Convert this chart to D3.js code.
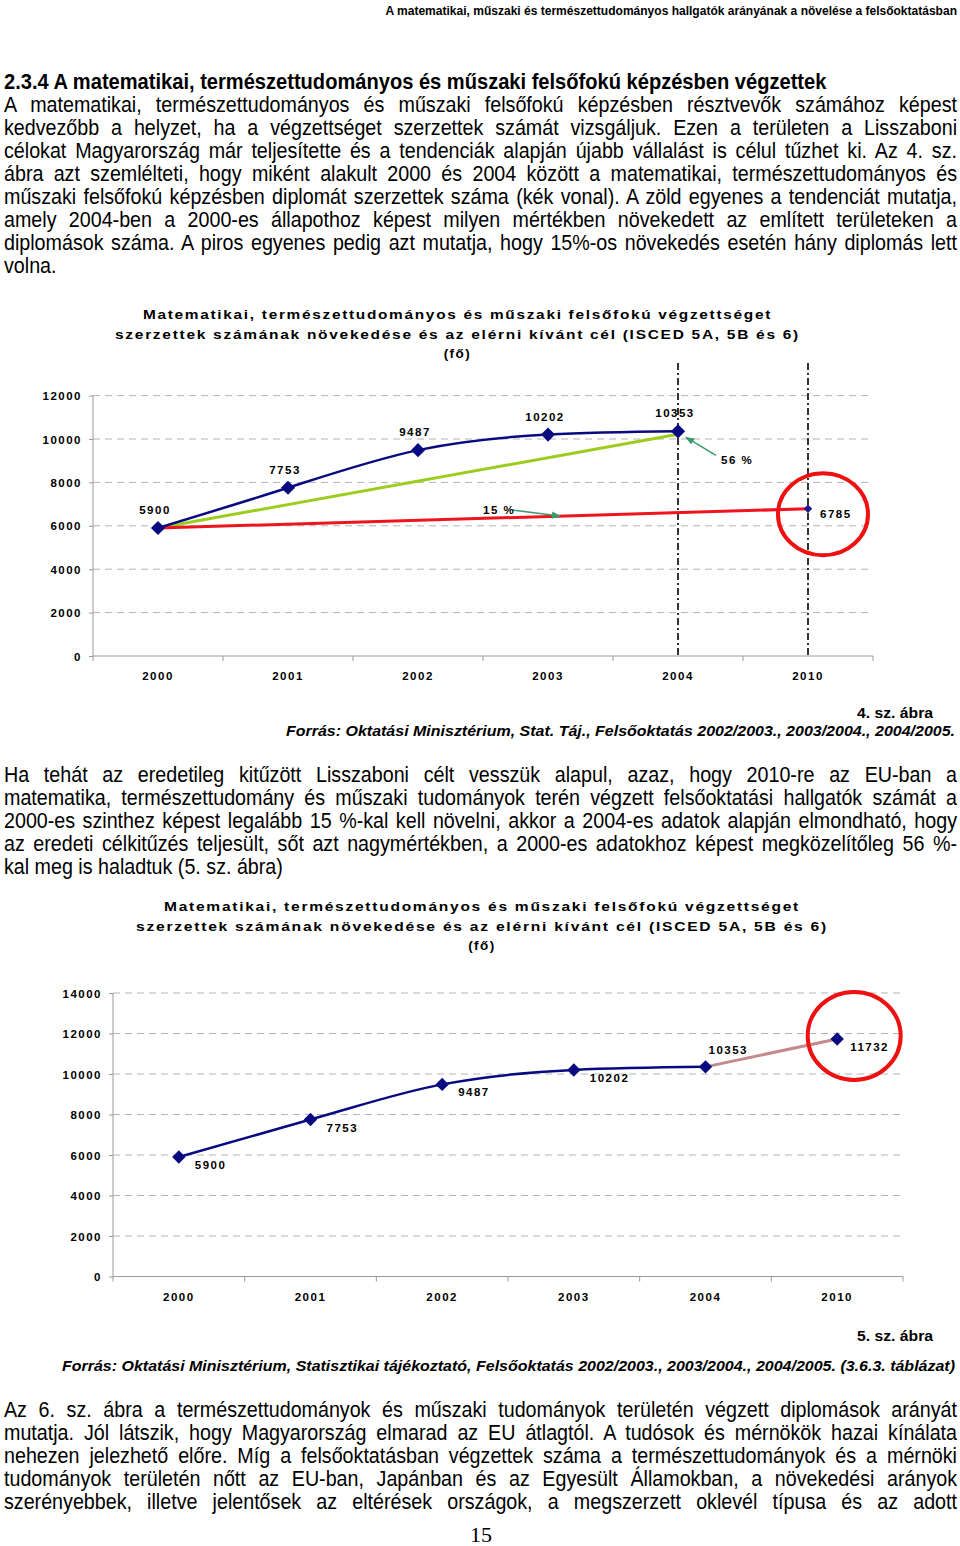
<!DOCTYPE html>
<html><head><meta charset="utf-8">
<script src="https://cdn.jsdelivr.net/npm/d3@7"></script>
<style>
html,body{margin:0;padding:0;background:#fff;}
svg{display:block;}
</style></head><body>
<svg id="page" width="960" height="1546"></svg>
<script>
// ---------------- data ----------------
const years = ["2000", "2001", "2002", "2003", "2004", "2010"];
const graduates = [5900, 7753, 9487, 10202, 10353];      // 2000–2004, blue line
const target15 = 6785;                                    // 2010 target at +15 %
const trend2010 = 11732;                                  // 2010 value in chart 5
const yTicks1 = [0, 2000, 4000, 6000, 8000, 10000, 12000];
const yTicks2 = [0, 2000, 4000, 6000, 8000, 10000, 12000, 14000];
const pct15 = "15 %";
const pct56 = "56 %";

const headerText = "A matematikai, műszaki és természettudományos hallgatók arányának a növelése a felsőoktatásban";
const headingText = "2.3.4 A matematikai, természettudományos és műszaki felsőfokú képzésben végzettek";
const para1 = [
  "A matematikai, természettudományos és műszaki felsőfokú képzésben résztvevők számához képest",
  "kedvezőbb a helyzet, ha a végzettséget szerzettek számát vizsgáljuk. Ezen a területen a Lisszaboni",
  "célokat Magyarország már teljesítette és a tendenciák alapján újabb vállalást is célul tűzhet ki. Az 4. sz.",
  "ábra azt szemlélteti, hogy miként alakult 2000 és 2004 között a matematikai, természettudományos és",
  "műszaki felsőfokú képzésben diplomát szerzettek száma (kék vonal). A zöld egyenes a tendenciát mutatja,",
  "amely 2004-ben a 2000-es állapothoz képest milyen mértékben növekedett az említett területeken a",
  "diplomások száma. A piros egyenes pedig azt mutatja, hogy 15%-os növekedés esetén hány diplomás lett",
  "volna."
];
const para2 = [
  "Ha tehát az eredetileg kitűzött Lisszaboni célt vesszük alapul, azaz, hogy 2010-re az EU-ban a",
  "matematika, természettudomány és műszaki tudományok terén végzett felsőoktatási hallgatók számát a",
  "2000-es szinthez képest legalább 15 %-kal kell növelni, akkor a 2004-es adatok alapján elmondható, hogy",
  "az eredeti célkitűzés teljesült, sőt azt nagymértékben, a 2000-es adatokhoz képest megközelítőleg 56 %-",
  "kal meg is haladtuk (5. sz. ábra)"
];
const para3 = [
  "Az 6. sz. ábra a természettudományok és műszaki tudományok területén végzett diplomások arányát",
  "mutatja. Jól látszik, hogy Magyarország elmarad az EU átlagtól. A tudósok és mérnökök hazai kínálata",
  "nehezen jelezhető előre. Míg a felsőoktatásban végzettek száma a természettudományok és a mérnöki",
  "tudományok területén nőtt az EU-ban, Japánban és az Egyesült Államokban, a növekedési arányok",
  "szerényebbek, illetve jelentősek az eltérések országok, a megszerzett oklevél típusa és az adott"
];
const chartTitle = [
  "Matematikai, természettudományos és műszaki felsőfokú végzettséget",
  "szerzettek számának növekedése és az elérni kívánt cél  (ISCED 5A, 5B és 6)",
  "(fő)"
];
const caption4 = "4. sz. ábra";
const source4 = "Forrás: Oktatási Minisztérium, Stat. Táj., Felsőoktatás 2002/2003., 2003/2004., 2004/2005.";
const caption5 = "5. sz. ábra";
const source5 = "Forrás: Oktatási Minisztérium, Statisztikai tájékoztató, Felsőoktatás 2002/2003., 2003/2004., 2004/2005. (3.6.3. táblázat)";
const pageNumber = "15";

// ---------------- helpers ----------------
const svg = d3.select("#page");
const ARIAL = "'Liberation Sans',Arial,Helvetica,sans-serif";
const CHARTFONT = "font-family:" + ARIAL + ";font-weight:bold;font-size:11.5px;letter-spacing:1.5px";
const NARROW_SCALE = 0.875;   // condensed look (Arial Narrow-like)

function fitText(sel, width) {
  sel.attr("textLength", width).attr("lengthAdjust", "spacingAndGlyphs");
}
function narrowLine(str, x, y, style, justifyWidth) {
  const g = svg.append("g").attr("transform", `translate(${x},${y}) scale(${NARROW_SCALE},1)`);
  const t = g.append("text").attr("x", 0).attr("y", 0).attr("style", style).text(str);
  if (justifyWidth) {
    const w = justifyWidth / NARROW_SCALE;
    const nat = t.node().getComputedTextLength();
    const spaces = (str.match(/ /g) || []).length;
    if (nat < w && spaces > 0) {
      t.style("word-spacing", ((w - nat) / spaces) + "px");
      const now = t.node().getComputedTextLength();
      if (Math.abs(now - w) > 2) t.attr("textLength", w).attr("lengthAdjust", "spacing");
    } else if (nat > w) {
      fitText(t, w);
    }
  }
  return t;
}
// a single line scaled horizontally to an exact width (anchor end or start)
function scaledLine(str, x, y, style, width, anchor) {
  const g = svg.append("g");
  const t = g.append("text").attr("x", 0).attr("y", 0).attr("style", style)
    .attr("text-anchor", anchor || "start").text(str);
  const nat = t.node().getComputedTextLength();
  g.attr("transform", `translate(${x},${y}) scale(${width / nat},1)`);
  return t;
}
function paragraph(lines, y0, step) {
  const style = "font-family:" + ARIAL + ";font-size:22.5px;fill:#000";
  lines.forEach((l, i) => {
    const last = i === lines.length - 1 && (l.length < 60);
    narrowLine(l, 4, y0 + i * step, style, last ? null : 953);
  });
}

// ---------------- page text ----------------
scaledLine(headerText, 957, 15, "font-family:" + ARIAL + ";font-weight:bold;font-size:13px", 572, "end");
scaledLine(headingText, 4, 89, "font-family:" + ARIAL + ";font-weight:bold;font-size:21.5px", 823, "start");
paragraph(para1, 111.5, 23.1);
paragraph(para2, 781.5, 23);
paragraph(para3, 1416.5, 23);
svg.append("text").attr("x", 481).attr("y", 1542).attr("text-anchor", "middle")
  .attr("style", "font-family:'Liberation Serif','Times New Roman',serif;font-size:22px").text(pageNumber);

// ---------------- chart helpers ----------------
function diamond(g, cx, cy, side, color) {
  g.append("path").attr("d", d3.symbol(d3.symbolSquare, side * side)())
    .attr("transform", `translate(${cx},${cy}) rotate(45)`)
    .attr("fill", color);
}
function drawTitle(g, cx, y0, widths) {
  chartTitle.forEach((l, i) => {
    const t = g.append("text").attr("x", cx).attr("y", y0 + i * 19.5).attr("text-anchor", "middle")
      .attr("style", "font-family:" + ARIAL + ";font-weight:bold;font-size:13.5px;letter-spacing:1.5px").text(l);
    if (widths[i]) fitText(t, widths[i]);
  });
}
function drawAxes(g, x, y, ticks, left, right) {
  const y0 = y(0), yTop = y(d3.max(ticks));
  g.append("g").selectAll("line").data(ticks.filter(d => d > 0)).join("line")
    .attr("x1", left).attr("x2", right).attr("y1", d => y(d)).attr("y2", d => y(d))
    .attr("stroke", "#b4b4b4").attr("stroke-width", 1).attr("stroke-dasharray", "7,5");
  const ya = d3.axisLeft(y).tickValues(ticks).tickSize(4).tickPadding(7).tickFormat(d3.format("d"));
  const yg = g.append("g").attr("transform", `translate(${left},0)`).call(ya);
  yg.select(".domain").attr("stroke", "#9a9a9a").attr("d", `M0,${yTop}V${y0}`);
  yg.selectAll(".tick line").attr("stroke", "#9a9a9a");
  yg.selectAll(".tick text").attr("style", CHARTFONT).attr("fill", "#000").attr("dy", "0.35em");
  const xa = d3.axisBottom(x).tickSize(0).tickPadding(16);
  const xg = g.append("g").attr("transform", `translate(0,${y0})`).call(xa);
  xg.select(".domain").attr("stroke", "#9a9a9a").attr("d", `M${left},0H${right}`);
  xg.selectAll(".tick text").attr("style", CHARTFONT).attr("fill", "#000");
  const bounds = x.domain().map(d => x(d)).concat([x.range()[1]]);
  xg.append("g").selectAll("line").data(bounds).join("line")
    .attr("x1", d => d).attr("x2", d => d).attr("y1", 0).attr("y2", 5).attr("stroke", "#9a9a9a");
}

// ---------------- chart 4 ----------------
(function () {
  const g = svg.append("g");
  const x = d3.scaleBand().domain(years).range([93, 873]);
  const y = d3.scaleLinear().domain([0, 12000]).range([656, 395.6]);
  const cx = d => x(d) + x.bandwidth() / 2;
  drawTitle(g, 457.5, 319, [629, 685, null]);
  drawAxes(g, x, y, yTicks1, 93, 873);

  g.append("g").selectAll("line").data(["2004", "2010"]).join("line")
    .attr("x1", cx).attr("x2", cx).attr("y1", 363).attr("y2", y(0))
    .attr("stroke", "#000").attr("stroke-width", 1.6).attr("stroke-dasharray", "7,3,2,3");

  const p0 = [cx(years[0]), y(graduates[0])];
  const p4 = [cx(years[4]), y(graduates[4])];
  const pT = [cx(years[5]), y(target15)];
  g.append("line").attr("x1", p0[0]).attr("y1", p0[1]).attr("x2", p4[0]).attr("y2", p4[1] + 3)
    .attr("stroke", "#9ccc1c").attr("stroke-width", 3);
  g.append("line").attr("x1", p0[0]).attr("y1", p0[1]).attr("x2", pT[0]).attr("y2", pT[1])
    .attr("stroke", "#f0141e").attr("stroke-width", 3);
  diamond(g, pT[0], pT[1], 6, "#1a1a8c");

  const pts = graduates.map((v, i) => [cx(years[i]), y(v)]);
  g.append("path").attr("d", d3.line().curve(d3.curveNatural)(pts))
    .attr("fill", "none").attr("stroke", "#0a0a80").attr("stroke-width", 2.5);
  pts.forEach(p => diamond(g, p[0], p[1], 10, "#0a0a80"));

  g.append("g").selectAll("text").data(graduates).join("text")
    .attr("x", (d, i) => cx(years[i]) - 3).attr("y", d => y(d) - 14)
    .attr("text-anchor", "middle").attr("style", CHARTFONT).text(d => d);
  g.append("text").attr("x", pT[0] + 12).attr("y", pT[1] + 9).attr("style", CHARTFONT).text(target15);

  const defs = svg.append("defs");
  defs.append("marker").attr("id", "arrG").attr("viewBox", "0 0 10 10").attr("refX", 9).attr("refY", 5)
    .attr("markerWidth", 6).attr("markerHeight", 6).attr("orient", "auto")
    .append("path").attr("d", "M0,1L10,5L0,9Z").attr("fill", "#3a9a6a");
  g.append("line").attr("x1", p4[0] + 38).attr("y1", p4[1] + 24).attr("x2", p4[0] + 8).attr("y2", p4[1] + 6)
    .attr("stroke", "#3a9a6a").attr("stroke-width", 1.5).attr("marker-end", "url(#arrG)");
  g.append("text").attr("x", p4[0] + 43).attr("y", p4[1] + 33).attr("style", CHARTFONT).text(pct56);
  const tipX = cx("2003") + 12;
  const tipY = p0[1] + (pT[1] - p0[1]) * (tipX - p0[0]) / (pT[0] - p0[0]);
  g.append("line").attr("x1", tipX - 48).attr("y1", tipY - 6).attr("x2", tipX).attr("y2", tipY)
    .attr("stroke", "#3a9a6a").attr("stroke-width", 1.5).attr("marker-end", "url(#arrG)");
  g.append("text").attr("x", tipX - 77).attr("y", tipY - 2).attr("style", CHARTFONT).text(pct15);

  g.append("ellipse").attr("cx", pT[0] + 15).attr("cy", pT[1] + 5.5).attr("rx", 45).attr("ry", 41)
    .attr("fill", "none").attr("stroke", "#ee1111").attr("stroke-width", 4);

  const c = g.append("text").attr("x", 933).attr("y", 718).attr("text-anchor", "end")
    .attr("style", "font-family:" + ARIAL + ";font-weight:bold;font-size:15.5px").text(caption4);
  fitText(c, 76);
  const s = g.append("text").attr("x", 955).attr("y", 736).attr("text-anchor", "end")
    .attr("style", "font-family:" + ARIAL + ";font-weight:bold;font-style:italic;font-size:15px").text(source4);
  fitText(s, 669);
})();

// ---------------- chart 5 ----------------
(function () {
  const g = svg.append("g");
  const x = d3.scaleBand().domain(years).range([113, 903]);
  const y = d3.scaleLinear().domain([0, 14000]).range([1276.5, 993]);
  const cx = d => x(d) + x.bandwidth() / 2;
  drawTitle(g, 482, 911, [636, 692, null]);
  drawAxes(g, x, y, yTicks2, 113, 903);

  const pts = graduates.map((v, i) => [cx(years[i]), y(v)]);
  const pE = [cx(years[5]), y(trend2010)];
  g.append("path").attr("d", d3.line()([pts[4], pE]))
    .attr("fill", "none").attr("stroke", "#c48a8e").attr("stroke-width", 3);
  g.append("path").attr("d", d3.line().curve(d3.curveMonotoneX)(pts))
    .attr("fill", "none").attr("stroke", "#0a0a80").attr("stroke-width", 2.5);
  pts.concat([pE]).forEach(p => diamond(g, p[0], p[1], 9.5, "#0a0a80"));

  const vals = graduates.concat([trend2010]);
  g.append("g").selectAll("text").data(vals).join("text")
    .attr("x", (d, i) => cx(years[i]) + (i === 4 ? 3 : i === 5 ? 13 : 16))
    .attr("y", (d, i) => y(d) + (i === 4 ? -13 : 12))
    .attr("style", CHARTFONT).text(d => d);

  g.append("ellipse").attr("cx", pE[0] + 17).attr("cy", pE[1] - 3).attr("rx", 46.5).attr("ry", 44)
    .attr("fill", "none").attr("stroke", "#ee1111").attr("stroke-width", 4);

  const c = g.append("text").attr("x", 933).attr("y", 1341).attr("text-anchor", "end")
    .attr("style", "font-family:" + ARIAL + ";font-weight:bold;font-size:15.5px").text(caption5);
  fitText(c, 76);
  const s = g.append("text").attr("x", 955).attr("y", 1371).attr("text-anchor", "end")
    .attr("style", "font-family:" + ARIAL + ";font-weight:bold;font-style:italic;font-size:15px").text(source5);
  fitText(s, 893);
})();
</script>
</body></html>
